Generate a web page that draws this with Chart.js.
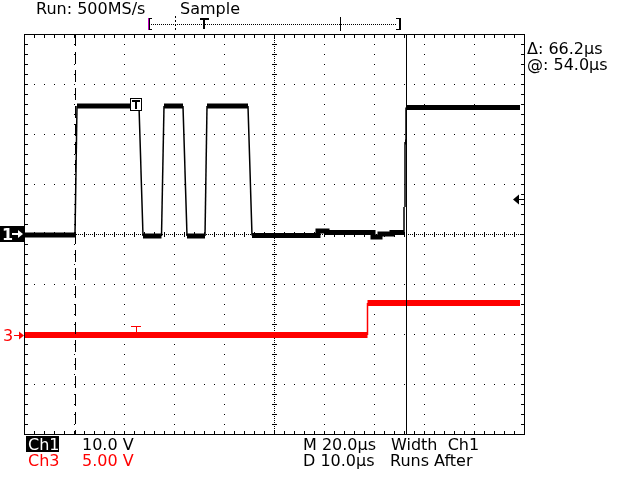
<!DOCTYPE html>
<html>
<head>
<meta charset="utf-8">
<script src="https://cdn.jsdelivr.net/npm/chart.js@4"></script>
<style>
  html, body { margin: 0; padding: 0; background: #fff; }
  #wrap { width: 640px; height: 480px; position: relative; }
</style>
</head>
<body>
<div id="wrap"><canvas id="scope"></canvas></div>
<script>
// time in microseconds relative to the trigger, volts per channel
let ch1Time  = [-22.2, -12.2, -11.8, 0.6, 1.4, 5.1, 5.6, 9.4, 10.2, 13.8, 14.2, 22.4, 23.2, 36.4, 36.4, 38.2, 38.2, 47.4, 47.4, 48.8, 48.8, 51.2, 51.2, 53.6, 53.6, 53.8, 53.8, 54.0, 54.0, 76.8];
let ch1Volts = [-0.2, -0.2, 25.6, 25.6, -0.4, -0.4, 25.6, 25.6, -0.4, -0.4, 25.6, 25.6, -0.3, -0.3, 0.6, 0.6, 0.3, 0.3, -0.6, -0.6, 0.0, 0.0, 0.3, 0.3, 5.4, 5.4, 18.4, 18.4, 25.3, 25.3];

let ch3Time  = [-22.2, 46.3, 46.3, 76.8];
let ch3Volts = [0, 0, 3.2, 3.2];

let cursorTimes = [-12.2, 54.0]; // dashed, solid
let triggerLevel = 7.0;           // ch1 volts, arrow on the right

let timeRange = [-22.4, 77.6];    // 10 div x 10.0us
let ch1Range = [-40, 40];         // 8 div x 10.0 V
let ch3Range = [-9.9, 30.1];      // 8 div x 5.00 V, ground 2.02 div below centre

const FONT = '16px "DejaVu Sans"';
const RED = '#ff0000';

function toXY(ts, vs) {
    return ts.map((t, i) => ({ x: t, y: vs[i] }));
}

// graticule, cursors and readouts
const scopeDecor = {
    id: 'scopeDecor',
    beforeDatasetsDraw(chart) {
        const ctx = chart.ctx;
        const a = chart.chartArea;
        const L = Math.round(a.left), T = Math.round(a.top);
        const R = Math.round(a.right), B = Math.round(a.bottom);
        ctx.save();
        ctx.fillStyle = '#000';
        // frame
        ctx.fillRect(L, T, R - L + 1, 1);
        ctx.fillRect(L, B, R - L + 1, 1);
        ctx.fillRect(L, T, 1, B - T + 1);
        ctx.fillRect(R, T, 1, B - T + 1);
        const cx = L + 250, cy = T + 200;
        // grid dots every 10px along division lines
        for (let gx = L + 50; gx < R; gx += 50) {
            if (gx === cx) continue;
            for (let y = T + 10; y < B; y += 10) ctx.fillRect(gx, y, 1, 1);
        }
        for (let gy = T + 50; gy < B; gy += 50) {
            if (gy === cy) continue;
            for (let x = L + 10; x < R; x += 10) ctx.fillRect(x, gy, 1, 1);
        }
        // centre lines
        for (let y = T + 2; y < B; y += 2) ctx.fillRect(cx, y, 1, 1);
        for (let y = T + 10; y < B; y += 10) ctx.fillRect(cx - 2, y, 5, 1);
        for (let x = L + 2; x < R; x += 2) ctx.fillRect(x, cy, 1, 1);
        for (let x = L + 10; x < R; x += 10) ctx.fillRect(x, cy - 2, 1, 5);
        // frame ticks
        for (let x = L + 10; x < R; x += 10) {
            ctx.fillRect(x, T + 1, 1, 3);
            ctx.fillRect(x, B - 3, 1, 3);
        }
        for (let y = T + 10; y < B; y += 10) {
            ctx.fillRect(L + 1, y, 3, 1);
            ctx.fillRect(R - 3, y, 3, 1);
        }
        ctx.restore();
    },
    afterDatasetsDraw(chart) {
        const ctx = chart.ctx;
        const a = chart.chartArea;
        const xs = chart.scales.x, y1 = chart.scales.y, y3 = chart.scales.y3;
        const T = Math.round(a.top), B = Math.round(a.bottom), R = Math.round(a.right);
        ctx.save();
        // cursors
        const c1 = Math.round(xs.getPixelForValue(cursorTimes[0])) + 0.5;
        const c2 = Math.round(xs.getPixelForValue(cursorTimes[1])) + 0.5;
        ctx.strokeStyle = '#000';
        ctx.lineWidth = 1;
        ctx.setLineDash([12, 6]);
        ctx.beginPath(); ctx.moveTo(c1, T); ctx.lineTo(c1, B); ctx.stroke();
        ctx.setLineDash([]);
        ctx.beginPath(); ctx.moveTo(c2, T); ctx.lineTo(c2, B); ctx.stroke();

        // trigger markers at t = 0
        const t0 = Math.round(xs.getPixelForValue(0));
        const ty1 = Math.round(y1.getPixelForValue(ch1Volts[3]));
        ctx.fillStyle = '#fff';
        ctx.fillRect(t0 - 6, ty1 - 8, 12, 13);
        ctx.strokeRect(t0 - 5.5, ty1 - 7.5, 11, 12);
        ctx.fillStyle = '#000';
        ctx.fillRect(t0 - 4, ty1 - 6, 8, 2);
        ctx.fillRect(t0 - 1, ty1 - 6, 2, 9);
        const ty3 = Math.round(y3.getPixelForValue(0));
        ctx.fillStyle = RED;
        ctx.fillRect(t0 - 5, ty3 - 9, 10, 1);
        ctx.fillRect(t0, ty3 - 9, 1, 7);

        // trigger level arrow
        const ly = Math.round(y1.getPixelForValue(triggerLevel)) + 0.5;
        ctx.fillStyle = '#000';
        ctx.beginPath();
        ctx.moveTo(R - 11, ly); ctx.lineTo(R - 5, ly - 5); ctx.lineTo(R - 5, ly + 5);
        ctx.closePath(); ctx.fill();
        ctx.fillRect(R - 6, ly - 0.5, 6, 1);

        // channel ground markers
        const g1 = Math.round(y1.getPixelForValue(0));
        ctx.fillRect(0, g1 - 8, 24, 16);
        ctx.font = 'bold ' + FONT;
        ctx.textBaseline = 'alphabetic';
        ctx.fillStyle = '#fff';
        ctx.fillText('1', 2, g1 + 6);
        ctx.fillRect(12, g1 - 1, 7, 2);
        ctx.beginPath(); ctx.moveTo(23, g1); ctx.lineTo(18, g1 - 4); ctx.lineTo(18, g1 + 4); ctx.closePath(); ctx.fill();
        const g3 = Math.round(y3.getPixelForValue(0));
        ctx.fillStyle = RED;
        ctx.font = FONT;
        ctx.fillText('3', 3, g3 + 6);
        ctx.fillRect(14, g3, 6, 1);
        ctx.beginPath(); ctx.moveTo(24, g3 + 0.5); ctx.lineTo(19, g3 - 3.5); ctx.lineTo(19, g3 + 4.5); ctx.closePath(); ctx.fill();

        // top record bar
        ctx.fillStyle = '#000';
        ctx.font = FONT;
        ctx.fillText('Run: 500MS/s', 36, 14);
        ctx.fillText('Sample', 180, 14);
        for (let x = 151; x < 397; x += 2) ctx.fillRect(x, 24, 1, 1);
        ctx.fillStyle = '#c000c0';
        ctx.fillRect(148, 18, 1, 12);
        ctx.fillStyle = '#000';
        ctx.fillRect(149, 18, 1, 12);
        ctx.fillRect(149, 18, 3, 1);
        ctx.fillRect(149, 29, 3, 1);
        for (let y = 16; y < 32; y += 4) ctx.fillRect(175, y, 1, 2);
        ctx.fillRect(200, 18, 9, 2);
        ctx.fillRect(203, 18, 2, 11);
        ctx.fillRect(340, 17, 1, 14);
        ctx.fillRect(399, 18, 2, 12);
        ctx.fillRect(396, 18, 3, 1);
        ctx.fillRect(396, 29, 3, 1);

        // cursor readouts
        ctx.fillText('\u0394: 66.2\u00b5s', 527, 54);
        ctx.fillText('@: 54.0\u00b5s', 527, 70);

        // bottom readouts
        ctx.fillRect(26, 436, 33, 16);
        ctx.fillStyle = '#fff';
        ctx.fillText('Ch1', 28, 450);
        ctx.fillStyle = '#000';
        ctx.fillText('10.0 V', 82, 450);
        ctx.fillText('M 20.0\u00b5s', 303, 450);
        ctx.fillText('Width  Ch1', 391, 450);
        ctx.fillText('D 10.0\u00b5s', 303, 466);
        ctx.fillText('Runs After', 390, 466);
        ctx.fillStyle = RED;
        ctx.fillText('Ch3', 28, 466);
        ctx.fillText('5.00 V', 82, 466);
        ctx.restore();
    }
};

function edgeWidth(thick) {
    return c => Math.abs(c.p0.parsed.y - c.p1.parsed.y) > 2 ? 1.5 : thick;
}

new Chart(document.getElementById('scope'), {
    type: 'line',
    data: {
        datasets: [
            {
                label: 'Ch1',
                data: toXY(ch1Time, ch1Volts),
                yAxisID: 'y',
                borderColor: '#000',
                borderWidth: 5,
                segment: { borderWidth: edgeWidth(5) },
                borderJoinStyle: 'miter',
                borderCapStyle: 'butt',
                pointRadius: 0,
                tension: 0
            },
            {
                label: 'Ch3',
                data: toXY(ch3Time, ch3Volts),
                yAxisID: 'y3',
                borderColor: RED,
                borderWidth: 6,
                segment: { borderWidth: edgeWidth(6) },
                borderCapStyle: 'butt',
                pointRadius: 0,
                tension: 0
            }
        ]
    },
    options: {
        responsive: true,
        maintainAspectRatio: false,
        animation: false,
        layout: { padding: { left: 24, top: 34, right: 116, bottom: 46 } },
        plugins: { legend: { display: false }, tooltip: { enabled: false } },
        scales: {
            x: { type: 'linear', min: timeRange[0], max: timeRange[1], display: false },
            y: { min: ch1Range[0], max: ch1Range[1], display: false },
            y3: { min: ch3Range[0], max: ch3Range[1], display: false }
        }
    },
    plugins: [scopeDecor]
});
</script>
</body>
</html>
